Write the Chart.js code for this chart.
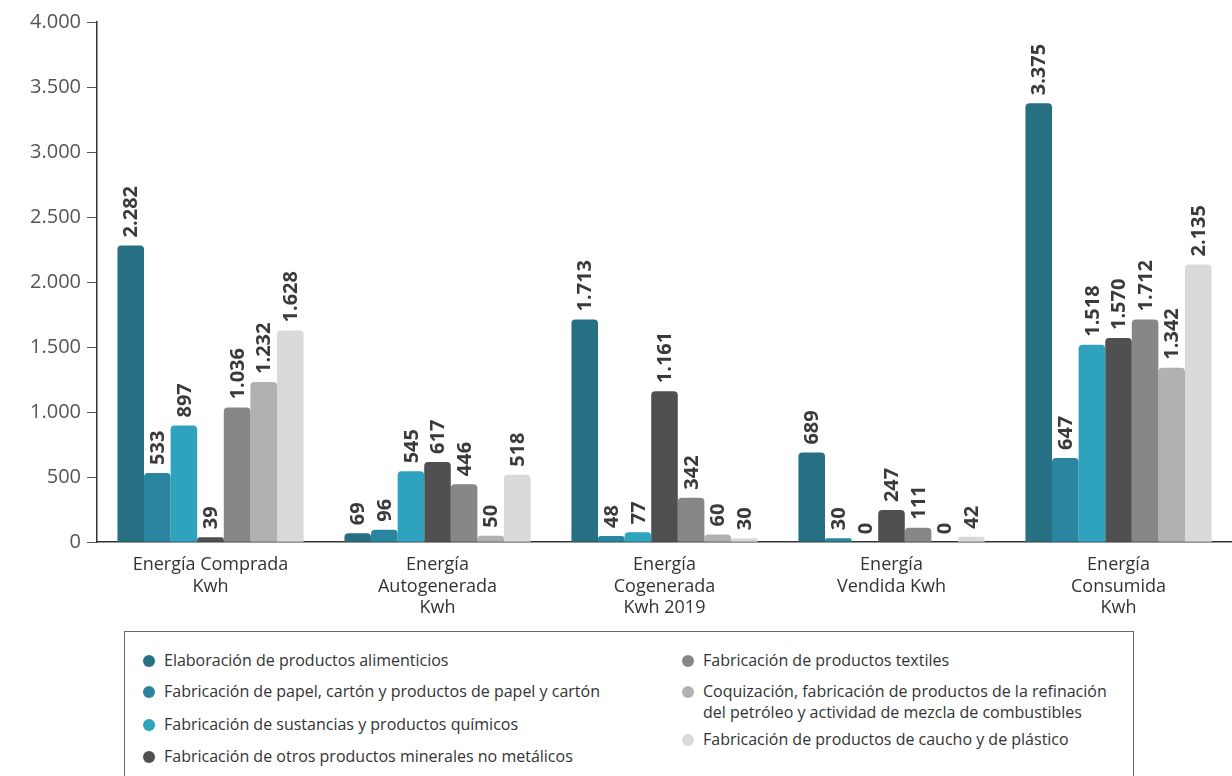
<!DOCTYPE html>
<html>
<head>
<meta charset="utf-8">
<script src="https://cdn.jsdelivr.net/npm/chart.js@4.4.1/dist/chart.umd.min.js"></script>
<style>
  html, body { margin: 0; padding: 0; background: #fff; overflow: hidden; }
  #wrap { position: relative; width: 1232px; height: 776px; font-family: "Open Sans", sans-serif; }
  #chartBox { position: absolute; left: 0; top: 0; width: 1232px; height: 625px; }
  #legend { position: absolute; left: 124px; top: 631px; width: 1010px; height: 160px;
            border: 1.5px solid #6a6a6a; box-sizing: border-box; }
  .item { position: absolute; font-size: 16px; line-height: 21px; color: #333; white-space: nowrap; }
  .dot { position: absolute; width: 12px; height: 12px; border-radius: 50%; }
</style>
</head>
<body>
<div id="wrap">
  <div id="chartBox"><canvas id="myChart"></canvas></div>
  <div id="legend"></div>
</div>
<script>
// categories (x axis)
const categories = [
  ['Energía Comprada', 'Kwh'],
  ['Energía', 'Autogenerada', 'Kwh'],
  ['Energía', 'Cogenerada', 'Kwh 2019'],
  ['Energía', 'Vendida Kwh'],
  ['Energía', 'Consumida', 'Kwh']
];

// series names
const seriesNames = [
  'Elaboración de productos alimenticios',
  'Fabricación de papel, cartón y productos de papel y cartón',
  'Fabricación de sustancias y productos químicos',
  'Fabricación de otros productos minerales no metálicos',
  'Fabricación de productos textiles',
  'Coquización, fabricación de productos de la refinación\ndel petróleo y actividad de mezcla de combustibles',
  'Fabricación de productos de caucho y de plástico'
];

// values per series (one per category)
const alimenticios = [2282, 69, 1713, 689, 3375];
const papel        = [533, 96, 48, 30, 647];
const quimicos     = [897, 545, 77, 0, 1518];
const minerales    = [39, 617, 1161, 247, 1570];
const textiles     = [1036, 446, 342, 111, 1712];
const coquizacion  = [1232, 50, 60, 0, 1342];
const caucho       = [1628, 518, 30, 42, 2135];

const yTicks = [0, 500, 1000, 1500, 2000, 2500, 3000, 3500, 4000];

const colors = ['#277083', '#2a86a0', '#2fa3be', '#505050', '#878787', '#b1b1b1', '#d9d9d9'];
const seriesValues = [alimenticios, papel, quimicos, minerales, textiles, coquizacion, caucho];

// thousands with dot
function fmt(v) {
  return String(v).replace(/\B(?=(\d{3})+(?!\d))/g, '.');
}

const data = {
  labels: categories,
  datasets: seriesValues.map((vals, i) => ({
    label: seriesNames[i],
    data: vals,
    backgroundColor: colors[i],
    borderWidth: 0,
    borderRadius: { topLeft: 4, topRight: 4 },
    borderSkipped: 'bottom',
    barPercentage: 1,
    categoryPercentage: 0.82
  }))
};

// vertical value labels above bars
const barValueLabels = {
  id: 'barValueLabels',
  afterDatasetsDraw(chart) {
    const { ctx } = chart;
    ctx.save();
    ctx.font = 'bold 20px "Open Sans"';
    ctx.fillStyle = '#3a3a3a';
    ctx.textAlign = 'left';
    ctx.textBaseline = 'middle';
    chart.data.datasets.forEach((ds, di) => {
      chart.getDatasetMeta(di).data.forEach((bar, i) => {
        ctx.save();
        ctx.translate(bar.x, bar.y - 8);
        ctx.rotate(-Math.PI / 2);
        ctx.fillText(fmt(ds.data[i]), 0, 1);
        ctx.restore();
      });
    });
    ctx.restore();
  }
};

const config = {
  type: 'bar',
  data,
  options: {
    responsive: true,
    maintainAspectRatio: false,
    animation: false,
    layout: { padding: { left: 22, top: 22, right: 0, bottom: 2 } },
    plugins: {
      legend: { display: false },
      tooltip: { enabled: false }
    },
    scales: {
      x: {
        grid: { display: false },
        border: { display: true, color: '#333', width: 1.5 },
        ticks: {
          color: '#333',
          font: { family: 'Open Sans', size: 18 },
          maxRotation: 0,
          padding: 4
        }
      },
      y: {
        min: 0,
        max: 4000,
        afterBuildTicks(axis) {
          axis.ticks = yTicks.map(v => ({ value: v }));
        },
        afterFit(axis) {
          axis.width = 75;
        },
        grid: { display: true, drawOnChartArea: false, drawTicks: true, tickLength: 10, color: '#555' },
        border: { display: true, color: '#333', width: 1.5 },
        ticks: {
          color: '#555',
          font: { family: 'Open Sans', size: 20 },
          padding: 6,
          callback: v => fmt(v)
        }
      }
    }
  },
  plugins: [barValueLabels]
};

const myChart = new Chart(document.getElementById('myChart'), config);

// legend (html)
const legendPos = [
  { x: 24, y: 18 }, { x: 24, y: 49 }, { x: 24, y: 82 }, { x: 24, y: 114 },
  { x: 563, y: 18 }, { x: 563, y: 49 }, { x: 563, y: 97 }
];
const legend = document.getElementById('legend');
seriesNames.forEach((name, i) => {
  const p = legendPos[i];
  const dot = document.createElement('div');
  dot.className = 'dot';
  dot.style.background = colors[i];
  dot.style.left = (p.x - 6) + 'px';
  dot.style.top = (p.y + 5) + 'px';
  legend.appendChild(dot);
  const t = document.createElement('div');
  t.className = 'item';
  t.style.left = (p.x + 15) + 'px';
  t.style.top = p.y + 'px';
  t.innerHTML = name.replace('\n', '<br>');
  legend.appendChild(t);
});
</script>
</body>
</html>
